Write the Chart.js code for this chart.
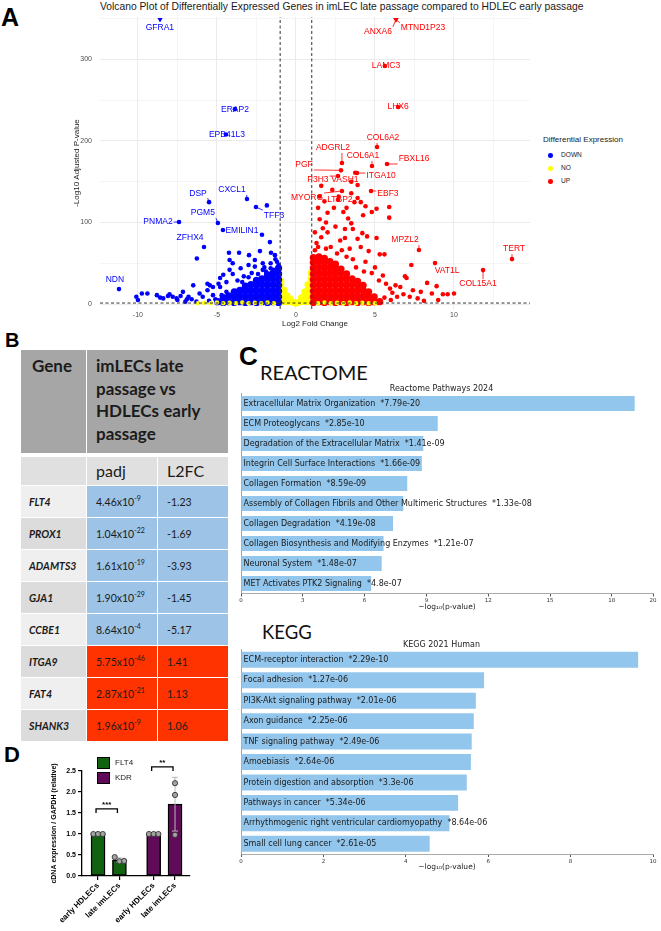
<!DOCTYPE html>
<html>
<head>
<meta charset="utf-8">
<script src="https://cdn.jsdelivr.net/npm/chart.js@4.4.1/dist/chart.umd.min.js"></script>
<style>
  body { margin:0; background:#fff; font-family:"Liberation Sans", Arial, sans-serif; }
  #page { position:relative; width:661px; height:931px; overflow:hidden; background:#fff; }
  .abs { position:absolute; white-space:nowrap; line-height:1; }
  .letter { font-weight:bold; color:#000; }
  canvas { position:absolute; }
  #tbl { position:absolute; left:20px; top:349px; width:209px; border-collapse:collapse; table-layout:fixed;
         font-family:Lato, "Open Sans", sans-serif; color:#1b1b1b; }
  #tbl td { box-sizing:border-box; border:1.5px solid #fff; padding:0; white-space:nowrap; overflow:hidden; }
  #tbl .hd td { background:#a6a6a6; height:105px; vertical-align:top; font-weight:bold; font-size:17px; line-height:22.5px; padding-top:5px; }
  #tbl .hd td.sep { border-bottom:4px solid #fff; }
  #tbl .sub td { height:31px; background:#e0e0e0; font-size:16px; vertical-align:middle; padding-left:9px; }
  #tbl .row td { height:32px; font-size:10.5px; vertical-align:middle; padding-left:9px; }
  #tbl td.gn { font-weight:bold; font-style:italic; padding-left:8px; }
  #tbl td.lt { background:#efefef; }
  #tbl td.dk { background:#dcdcdc; }
  #tbl td.dn { background:#9dc3e6; }
  #tbl td.up { background:#ff3300; }
  #tbl sup { font-size:7px; vertical-align:5px; line-height:0; }
</style>
</head>
<body>
<div id="page">
  <div class="abs letter" style="left:1px;top:5px;font-size:25px;">A</div>
  <div class="abs letter" style="left:5px;top:330px;font-size:20px;">B</div>
  <div class="abs letter" style="left:239px;top:343px;font-size:26px;">C</div>
  <div class="abs letter" style="left:4px;top:744px;font-size:22px;">D</div>

  <div class="abs" id="vTitle" style="left:100px;top:2px;font-size:10.3px;color:#1a1a1a;"></div>
  <div id="vLegend"></div>
  <canvas id="volcano" width="661" height="329" style="left:0;top:0;"></canvas>

  <table id="tbl"><tbody id="tblBody"></tbody></table>

  <div class="abs" style="left:260px;top:362px;font-size:20px;font-family:Lato,sans-serif;color:#111;">REACTOME</div>
  <canvas id="reactome" width="431" height="232" style="left:230px;top:380px;"></canvas>
  <div class="abs" style="left:262px;top:623px;font-size:18.5px;font-family:Lato,sans-serif;color:#111;">KEGG</div>
  <canvas id="kegg" width="431" height="236" style="left:230px;top:636px;"></canvas>

  <canvas id="qpcr" width="230" height="181" style="left:0;top:750px;"></canvas>
  <div id="dLegend"></div>
</div>

<script>
// ---------- A: volcano plot ----------
const volcanoTitle = 'Volcano Plot of Differentially Expressed Genes in imLEC late passage compared to HDLEC early passage';
const groups = ['DOWN', 'NO', 'UP'];
const groupColors = ['#0000ff', '#ffff00', '#ff0000'];

// [log2FC, -log10 padj]
const downCore = [
  [-1.1,2],[-1.1,9],[-1.1,16],[-1.1,23],[-1.1,30],[-1.1,37],[-1.1,44],
  [-1.45,3],[-1.45,10],[-1.45,17],[-1.45,24],[-1.45,31],[-1.45,38],
  [-1.8,2],[-1.8,9],[-1.8,16],[-1.8,23],[-1.8,30],[-1.8,36],
  [-2.15,3],[-2.15,10],[-2.15,17],[-2.15,24],[-2.15,31],
  [-2.5,2],[-2.5,9],[-2.5,16],[-2.5,23],[-2.5,29],
  [-2.85,3],[-2.85,10],[-2.85,17],[-2.85,24],
  [-3.2,2],[-3.2,9],[-3.2,16],[-3.2,22],
  [-3.55,3],[-3.55,10],[-3.55,17],
  [-3.9,2],[-3.9,9],[-3.9,15],
  [-4.25,3],[-4.25,10],[-4.6,2],[-4.6,8],[-4.95,3]
];
const downPts = [
  [-2.15,85],[-1.65,76],[-6.27,56],[-4.24,63],[-3.6,63],[-2.97,60],[-2.28,65],[-1.58,63],[-1.33,60],[-1.84,121],
  [-4.2,54],[-4.2,42],[-4.0,50],[-4.0,37],[-3.5,44],[-3.0,48],[-3.0,33],[-2.6,46],[-2.6,54],[-2.1,50],
  [-2.1,42],[-1.6,50],[-1.6,44],[-1.2,52],[-1.1,48],[-1.4,42],[-1.9,40],[-2.4,37],[-2.8,38],[-3.3,34],
  [-3.7,29],[-4.4,27],[-4.6,36],[-4.8,32],[-4.9,25],[-5.25,21],[-5.45,23],[-5.6,25],[-6.5,23],[-6.1,13],
  [-6.8,9],[-7.15,15],[-7.3,10],[-7.55,7],[-7.8,9],[-8.1,10],[-8.4,7],[-8.8,11],[-9.4,13],[-9.75,13],
  [-10.1,9],[-10.0,5],[-8.6,8],[-8.0,12],[-7.5,5],[-6.9,6],[-6.6,6],[-5.9,9],[-5.6,17],[-5.25,11],
  [-4.8,21],[-4.4,15],[-5.1,6],[-5.5,4],[-6.3,3],[-7.0,3],[-4.7,11],[-3.4,27],[-2.0,45],[-1.3,55]
];
const upCore = [
  [1.1,2],[1.1,9],[1.1,16],[1.1,23],[1.1,30],[1.1,37],[1.1,44],[1.1,51],[1.1,57],
  [1.45,3],[1.45,10],[1.45,17],[1.45,24],[1.45,31],[1.45,38],[1.45,45],[1.45,52],[1.45,58],
  [1.8,2],[1.8,9],[1.8,16],[1.8,23],[1.8,30],[1.8,37],[1.8,44],[1.8,51],[1.8,56],
  [2.15,3],[2.15,10],[2.15,17],[2.15,24],[2.15,31],[2.15,38],[2.15,45],[2.15,52],
  [2.5,2],[2.5,9],[2.5,16],[2.5,23],[2.5,30],[2.5,37],[2.5,44],[2.5,49],
  [2.85,3],[2.85,10],[2.85,17],[2.85,24],[2.85,31],[2.85,38],[2.85,43],
  [3.2,2],[3.2,9],[3.2,16],[3.2,23],[3.2,30],[3.2,37],
  [3.55,3],[3.55,10],[3.55,17],[3.55,24],[3.55,31],
  [3.9,2],[3.9,9],[3.9,16],[3.9,23],[3.9,28],
  [4.25,3],[4.25,10],[4.25,17],[4.25,23],
  [4.6,2],[4.6,9],[4.6,15],[4.95,3],[4.95,9],[5.3,3]
];
const upPts = [
  [5.9,119],[5.9,106],[5.1,117],[4.8,113],[4.4,120],[3.9,130],[3.7,125],[3.5,136],[4.25,109],[3.5,99],
  [4.2,87],[5.1,81],[4.5,83],[3.1,81],[5.3,61],[5.6,61],[7.3,48],[6.9,34],[8.9,22],[8.3,26],
  [9.3,12],[9.6,12],[10.0,13],[8.6,13],[7.7,7],[7.4,17],[6.3,23],[6.6,21],[5.95,19],[7.0,32],
  [5.25,29],[4.8,38],[6.4,9],[7.2,9],[1.7,93],[1.4,70],[2.0,88],[1.3,75],[1.6,82],[1.9,100],
  [2.2,70],[2.5,95],[2.8,78],[3.1,92],[3.3,105],[2.0,112],[2.4,118],[1.8,126],[3.0,113],[3.6,92],
  [1.5,104],[2.7,132],[3.9,80],[4.1,70],[4.6,65],[3.4,68],[2.3,140],[1.6,145],[1.4,118],[1.2,88],
  [2.6,62],[3.2,58],[3.8,45],[4.3,40],[5.0,45],[5.5,35],[5.7,25],[6.1,14],[6.8,12],[7.9,15],
  [8.1,4],[9.0,5],[5.6,8],[6.0,5],[4.4,52],[3.6,55],[2.9,66],[1.9,68],[1.2,66],[1.5,132],
  [3.9,146],[4.1,125],[3.2,118],[3.75,161]
];
const noCore = [
  [-0.95,3],[-0.95,10],[-0.95,17],[-0.95,24],[-0.95,28],[-0.75,3],[-0.75,10],[-0.75,17],
  [-0.55,3],[-0.55,10],[-0.35,3],[-0.35,6],[-0.15,2],[0,1],[0.15,2],[0.35,3],[0.35,8],
  [0.55,3],[0.55,10],[0.55,15],[0.75,3],[0.75,10],[0.75,17],[0.75,24],
  [0.95,3],[0.95,10],[0.95,17],[0.95,24],[0.95,31],[0.95,38]
];
const noBand = [
  [-6.2,1],[-5.8,1.5],[-5.4,1],[-5,2],[-4.6,1],[-4.2,1.5],[-3.8,1],[-3.4,2],[-3,1],[-2.6,1.5],
  [-2.2,1],[-1.8,2],[-1.4,1],[1.4,1],[1.8,2],[2.2,1],[2.6,1.5],[3,1],[3.4,2],[3.8,1],
  [4.2,1.5],[4.6,1],[5,1]
];
// [gene, point x, point y, label x, label y, group]
const geneLabels = [
  ['GFRA1', -8.6, 349, -8.61, 338.5, 'DOWN'],
  ['ERAP2', -3.86, 239, -3.86, 239, 'DOWN'],
  ['EPB41L3', -4.43, 208, -4.37, 208, 'DOWN'],
  ['DSP', -5.5, 125, -6.2, 136, 'DOWN'],
  ['CXCL1', -3.1, 128.8, -4.05, 140, 'DOWN'],
  ['TFF3', -2.53, 119, -1.39, 109, 'DOWN'],
  ['PNMA2', -7.4, 100.6, -8.73, 100.6, 'DOWN'],
  ['PGM5', -4.94, 99.4, -5.89, 111.7, 'DOWN'],
  ['EMILIN1', -4.62, 90.8, -3.42, 89.6, 'DOWN'],
  ['ZFHX4', -5.82, 70, -6.7, 81, 'DOWN'],
  ['NDN', -11.2, 18.4, -11.46, 29.4, 'DOWN'],
  ['ANXA6', 6.33, 349, 5.19, 333.7, 'UP'],
  ['MTND1P23', 6.33, 349, 8.04, 338.7, 'UP'],
  ['LAMC3', 5.63, 292, 5.70, 292, 'UP'],
  ['LHX6', 6.46, 241.7, 6.46, 241.7, 'UP'],
  ['COL6A2', 5.13, 192.6, 5.51, 203.7, 'UP'],
  ['ADGRL2', 2.91, 173, 2.34, 191.4, 'UP'],
  ['COL6A1', 4.81, 169.3, 4.24, 181.6, 'UP'],
  ['FBXL16', 5.76, 171.8, 7.47, 177.9, 'UP'],
  ['PGF', 2.85, 164, 0.51, 170.6, 'UP'],
  ['P3H3', 2.66, 157, 1.39, 152, 'UP'],
  ['VASH1', 3.5, 150, 3.1, 152, 'UP'],
  ['ITGA10', 3.86, 160.7, 5.38, 157, 'UP'],
  ['EBF3', 4.75, 138.7, 5.82, 135, 'UP'],
  ['MYORG', 2.91, 138.7, 0.7, 130, 'UP'],
  ['LTBP2', 2.66, 128, 2.78, 127.6, 'UP'],
  ['MPZL2', 7.78, 66.3, 6.9, 78.5, 'UP'],
  ['TERT', 13.67, 55.2, 13.8, 67.5, 'UP'],
  ['VAT1L', 8.8, 50.3, 9.56, 40.5, 'UP'],
  ['COL15A1', 11.84, 41.7, 11.52, 24.5, 'UP']
];
const yTop = 349;   // genes beyond the axis are pinned here as triangles

// ---------- B: table ----------
const tableGenes = ['FLT4', 'PROX1', 'ADAMTS3', 'GJA1', 'CCBE1', 'ITGA9', 'FAT4', 'SHANK3'];
const tablePadj = ['4.46', '1.04', '1.61', '1.90', '8.64', '5.75', '2.87', '1.96'];
const tablePadjExp = [-9, -22, -19, -29, -4, -46, -21, -9];
const tableL2FC = [-1.23, -1.69, -3.93, -1.45, -5.17, 1.41, 1.13, 1.06];

// ---------- C: enrichment ----------
const reactomeTerms = ['Extracellular Matrix Organization', 'ECM Proteoglycans', 'Degradation of the Extracellular Matrix',
  'Integrin Cell Surface Interactions', 'Collagen Formation', 'Assembly of Collagen Fibrils and Other Multimeric Structures',
  'Collagen Degradation', 'Collagen Biosynthesis and Modifying Enzymes', 'Neuronal System', 'MET Activates PTK2 Signaling'];
const reactomeP = ['7.79e-20', '2.85e-10', '1.41e-09', '1.66e-09', '8.59e-09', '1.33e-08', '4.19e-08', '1.21e-07', '1.48e-07', '4.8e-07'];
const reactomeScore = [19.11, 9.55, 8.85, 8.78, 8.07, 7.88, 7.38, 6.92, 6.83, 6.32];
const keggTerms = ['ECM-receptor interaction', 'Focal adhesion', 'PI3K-Akt signaling pathway', 'Axon guidance',
  'TNF signaling pathway', 'Amoebiasis', 'Protein digestion and absorption', 'Pathways in cancer',
  'Arrhythmogenic right ventricular cardiomyopathy', 'Small cell lung cancer'];
const keggP = ['2.29e-10', '1.27e-06', '2.01e-06', '2.25e-06', '2.49e-06', '2.64e-06', '3.3e-06', '5.34e-06', '8.64e-06', '2.61e-05'];
const keggScore = [9.64, 5.90, 5.70, 5.65, 5.60, 5.58, 5.48, 5.27, 5.06, 4.58];

// ---------- D: qPCR ----------
const dLabels = ['early HDLECs', 'late imLECs', 'early HDLECs', 'late imLECs'];
const dGenes = ['FLT4', 'FLT4', 'KDR', 'KDR'];
const dMeans = [1.0, 0.38, 1.0, 1.71];
const dSD = [0, 0.05, 0, 0.64];
const dReps = [[1.0, 1.0, 1.0], [0.45, 0.35, 0.36], [1.0, 1.0, 1.0], [2.21, 1.93, 0.98]];
const dSig = [[0, 1, '***'], [2, 3, '**']];

Chart.defaults.font.family = '"Liberation Sans", Arial, sans-serif';
Chart.defaults.animation = false;
Chart.defaults.responsive = false;
Chart.defaults.events = [];
Chart.defaults.plugins.legend.display = false;
Chart.defaults.plugins.tooltip.enabled = false;

const colorOf = g => groupColors[groups.indexOf(g)];
const toXY = a => a.map(p => ({ x: p[0], y: p[1] }));

// ----- volcano -----
document.getElementById('vTitle').textContent = volcanoTitle;
const leg = document.getElementById('vLegend');
leg.innerHTML = '<div class="abs" style="left:543px;top:136px;font-size:8px;color:#222;">Differential Expression</div>' +
  groups.map((g, i) => `<div class="abs" style="left:548px;top:${153 + i * 13}px;width:4.6px;height:4.6px;border-radius:50%;background:${groupColors[i]};"></div>` +
    `<div class="abs" style="left:561px;top:${152 + i * 13}px;font-size:6.6px;color:#222;">${g}</div>`).join('');

const labeledPts = g => geneLabels.filter(l => l[5] === g && l[2] < yTop).map(l => ({ x: l[1], y: l[2] }));
const pinned = geneLabels.filter(l => l[2] >= yTop);

const geneLabelPlugin = {
  id: 'geneLabels',
  afterDatasetsDraw(chart) {
    const { ctx, scales: { x, y } } = chart;
    ctx.save();
    ctx.font = '8.5px "Liberation Sans", Arial, sans-serif';
    ctx.textAlign = 'center';
    ctx.textBaseline = 'middle';
    geneLabels.forEach(l => {
      const col = colorOf(l[5]);
      const px = x.getPixelForValue(l[1]), py = y.getPixelForValue(l[2]);
      const lx = x.getPixelForValue(l[3]), ly = y.getPixelForValue(l[4]);
      const hw = ctx.measureText(l[0]).width / 2 + 1, hh = 5;
      const cx = Math.max(lx - hw, Math.min(px, lx + hw));
      const cy = Math.max(ly - hh, Math.min(py, ly + hh));
      if (Math.hypot(cx - px, cy - py) > 4) {
        ctx.strokeStyle = col; ctx.lineWidth = 0.8;
        ctx.beginPath(); ctx.moveTo(px, py); ctx.lineTo(cx, cy); ctx.stroke();
      }
      ctx.fillStyle = col;
      ctx.fillText(l[0], lx, ly);
    });
    ctx.restore();
  }
};

const gridCol = '#ebebeb';
const dashed = (pts) => ({ type: 'line', data: pts, borderColor: '#333', borderWidth: 1, borderDash: [3, 2.5], pointRadius: 0, fill: false });
const pts = (data, g, r) => ({ type: 'scatter', data, pointRadius: r, pointBackgroundColor: colorOf(g), pointBorderWidth: 0 });

new Chart(document.getElementById('volcano'), {
  type: 'scatter',
  data: {
    datasets: [
      dashed([{ x: -12.4, y: 1.3 }, { x: 14.81, y: 1.3 }]),
      dashed([{ x: -1, y: -6 }, { x: -1, y: 352 }]),
      dashed([{ x: 1, y: -6 }, { x: 1, y: 352 }]),
      { type: 'scatter', data: pinned.map(l => ({ x: l[1], y: l[2] })), pointStyle: 'triangle', rotation: 180, pointRadius: 3,
        pointBackgroundColor: pinned.map(l => colorOf(l[5])), pointBorderWidth: 0 },
      pts(toXY(noBand), 'NO', 2.3),
      pts(toXY(upPts).concat(labeledPts('UP')), 'UP', 2.3),
      pts(toXY(downPts).concat(labeledPts('DOWN')), 'DOWN', 2.3),
      pts(toXY(upCore), 'UP', 3.6),
      pts(toXY(downCore), 'DOWN', 3.6),
      pts(toXY(noCore), 'NO', 3.4)
    ]
  },
  options: {
    layout: { padding: { left: 72, top: 17, right: 131, bottom: 0 } },
    scales: {
      x: {
        type: 'linear', min: -12.4, max: 14.81,
        ticks: { stepSize: 2.5, includeBounds: false, autoSkip: false, maxRotation: 0, padding: 2,
                 callback: v => (v % 5 === 0 ? v : ''), color: '#4d4d4d', font: { size: 7 } },
        grid: { color: gridCol, drawTicks: false, lineWidth: c => (c.tick && c.tick.value % 5 === 0 ? 1 : 0.5) },
        border: { display: false },
        title: { display: true, text: 'Log2 Fold Change', color: '#222', font: { size: 8 }, padding: 0 },
        afterFit: s => { s.height = 20; }
      },
      y: {
        type: 'linear', min: -6, max: 352,
        ticks: { stepSize: 50, includeBounds: false, autoSkip: false, padding: 8,
                 callback: v => (v % 100 === 0 ? v : ''), color: '#4d4d4d', font: { size: 7 } },
        grid: { color: gridCol, drawTicks: false, lineWidth: c => (c.tick && c.tick.value % 100 === 0 ? 1 : 0.5) },
        border: { display: false },
        title: { display: true, text: '-Log10 Adjusted P-value', color: '#222', font: { size: 8 }, padding: 0 },
        afterFit: s => { s.width = 28; }
      }
    }
  },
  plugins: [geneLabelPlugin]
});

// ----- table -----
const body = document.getElementById('tblBody');
body.innerHTML =
  '<tr class="hd"><td class="sep" style="width:66px;padding-left:11px;">Gene</td>' +
  '<td class="sep" colspan="2" style="padding-left:9px;">imLECs late<br>passage vs<br>HDLECs early<br>passage</td></tr>' +
  '<tr class="sub"><td style="width:66px;"></td><td style="width:69px;">padj</td><td style="width:74px;">L2FC</td></tr>' +
  tableGenes.map((g, i) => {
    const cls = tableL2FC[i] > 0 ? 'up' : 'dn';
    return `<tr class="row"><td class="gn ${i % 2 ? 'dk' : 'lt'}">${g}</td>` +
      `<td class="${cls}">${tablePadj[i]}x10<sup>${tablePadjExp[i]}</sup></td>` +
      `<td class="${cls}">${tableL2FC[i].toFixed(2)}</td></tr>`;
  }).join('');

// ----- enrichment bars -----
const barText = {
  id: 'barText',
  afterDatasetsDraw(chart, args, opts) {
    const { ctx, chartArea } = chart;
    const meta = chart.getDatasetMeta(0);
    ctx.save();
    ctx.font = '8px "DejaVu Sans", sans-serif';
    ctx.fillStyle = '#1a1a1a';
    ctx.textBaseline = 'middle';
    meta.data.forEach((bar, i) => {
      ctx.fillText(`${chart.data.labels[i]}  *${opts.p[i]}`, chartArea.left + 2.5, bar.y);
    });
    ctx.restore();
  }
};

function enrichChart(id, title, terms, pvals, scores, max, step, axisH, barPct) {
  return new Chart(document.getElementById(id), {
    type: 'bar',
    data: { labels: terms, datasets: [{ data: scores, backgroundColor: '#93c6ec', barPercentage: barPct, categoryPercentage: 1 }] },
    options: {
      indexAxis: 'y',
      layout: { padding: { left: 0, right: 8, top: 0, bottom: 0 } },
      plugins: {
        title: { display: true, text: title, color: '#222', font: { family: '"DejaVu Sans", sans-serif', size: 8, weight: 'normal' },
                 padding: { top: 4, bottom: 0 } },
        barText: { p: pvals }
      },
      scales: {
        x: {
          min: 0, max,
          ticks: { stepSize: step, color: '#333', padding: 1, font: { family: '"DejaVu Sans", sans-serif', size: 5.5 } },
          grid: { drawOnChartArea: false, tickLength: 3, color: '#555' },
          border: { color: '#aaa' },
          title: { display: true, text: '−log₁₀(p-value)', color: '#222', padding: 0,
                   font: { family: '"DejaVu Sans", sans-serif', size: 7.5 } },
          afterFit: s => { s.height = axisH; }
        },
        y: {
          ticks: { display: false },
          grid: { display: false },
          border: { color: '#8a8a8a', width: 0.8 },
          afterFit: s => { s.width = 11; }
        }
      }
    },
    plugins: [barText]
  });
}
enrichChart('reactome', 'Reactome Pathways 2024', reactomeTerms, reactomeP, reactomeScore, 20.0, 3, 18.5, 0.75);
enrichChart('kegg', 'KEGG 2021 Human', keggTerms, keggP, keggScore, 10.0, 2, 18, 0.78);

// ----- qPCR -----
const geneColor = { FLT4: '#11620f', KDR: '#5f0b57' };
const dPos = [1, 2, 3.6, 4.6];
const sigLevel = [1.6, 2.6];

document.getElementById('dLegend').innerHTML = Object.keys(geneColor).map((g, i) =>
  `<div class="abs" style="left:97px;top:${757 + i * 15}px;width:11px;height:10px;background:${geneColor[g]};border:1px solid #000;"></div>` +
  `<div class="abs" style="left:115px;top:${759 + i * 15}px;font-size:8px;color:#222;">${g}</div>`).join('');

const repPts = [];
dReps.forEach((r, i) => {
  const spread = Math.max(...r) - Math.min(...r) < 0.15;
  r.forEach((v, j) => repPts.push({ x: dPos[i] + (spread ? (j - 1) * 0.22 : 0), y: v }));
});

const dExtras = {
  id: 'dExtras',
  afterDatasetDraw(chart, args) {
    if (args.index !== 1) return;
    const { ctx, scales: { x, y } } = chart;
    ctx.save();
    ctx.strokeStyle = '#b8b8b8';
    ctx.lineWidth = 1;
    dMeans.forEach((m, i) => {
      if (!dSD[i]) return;
      const px = x.getPixelForValue(dPos[i]);
      const t = y.getPixelForValue(m + dSD[i]), b = y.getPixelForValue(m - dSD[i]);
      ctx.beginPath();
      ctx.moveTo(px, b); ctx.lineTo(px, t);
      ctx.moveTo(px - 3, t); ctx.lineTo(px + 3, t);
      ctx.moveTo(px - 3, b); ctx.lineTo(px + 3, b);
      ctx.stroke();
    });
    ctx.restore();
  },
  afterDraw(chart) {
    const { ctx, scales: { x, y } } = chart;
    ctx.save();
    ctx.strokeStyle = '#000';
    ctx.fillStyle = '#000';
    ctx.lineWidth = 1.3;
    ctx.font = 'bold 8px "Liberation Sans", Arial, sans-serif';
    ctx.textAlign = 'center';
    dSig.forEach((s, k) => {
      const x1 = x.getPixelForValue(dPos[s[0]]) - 2, x2 = x.getPixelForValue(dPos[s[1]]) - 2;
      const yt = y.getPixelForValue(sigLevel[k]), yl = y.getPixelForValue(sigLevel[k] - 0.1);
      ctx.beginPath();
      ctx.moveTo(x1, yl); ctx.lineTo(x1, yt); ctx.lineTo(x2, yt); ctx.lineTo(x2, yl);
      ctx.stroke();
      ctx.fillText(s[2], (x1 + x2) / 2, yt - 1.5);
    });
    ctx.restore();
  }
};

const axisFont = { family: '"Liberation Sans", Arial, sans-serif', size: 7, weight: 'bold' };
new Chart(document.getElementById('qpcr'), {
  type: 'bar',
  data: {
    datasets: [
      { type: 'scatter', data: repPts, pointRadius: 2.6, pointBackgroundColor: '#a3a3a3', pointBorderColor: '#333', pointBorderWidth: 0.9 },
      { type: 'bar', data: dMeans.map((m, i) => ({ x: dPos[i], y: m })), backgroundColor: dGenes.map(g => geneColor[g]),
        borderColor: '#000', borderWidth: 1.5, borderSkipped: false, barThickness: 14 }
    ]
  },
  options: {
    layout: { padding: { left: 50, top: 21, right: 40, bottom: 0 } },
    scales: {
      x: {
        type: 'linear', min: 0.25, max: 5.3, offset: false,
        afterBuildTicks: s => { s.ticks = dPos.map(v => ({ value: v })); },
        ticks: { autoSkip: false, minRotation: 45, maxRotation: 45, padding: 1, color: '#000',
                 font: { family: axisFont.family, size: 8, weight: 'bold' }, callback: (v, i) => dLabels[i] },
        grid: { drawOnChartArea: false, offset: false, tickLength: 4, color: '#000', lineWidth: 1.2 },
        border: { color: '#000', width: 1.3 },
        afterFit: s => { s.height = 55; }
      },
      y: {
        min: 0, max: 2.5,
        ticks: { stepSize: 0.5, color: '#000', padding: 2, font: axisFont, callback: v => v.toFixed(1) },
        grid: { drawOnChartArea: false, tickLength: 4, color: '#000', lineWidth: 1.2 },
        border: { color: '#000', width: 1.3 },
        title: { display: true, text: 'cDNA expression / GAPDH (relative)', color: '#000', font: axisFont, padding: 0 },
        afterFit: s => { s.width = 32; }
      }
    }
  },
  plugins: [dExtras]
});
</script>
</body>
</html>
